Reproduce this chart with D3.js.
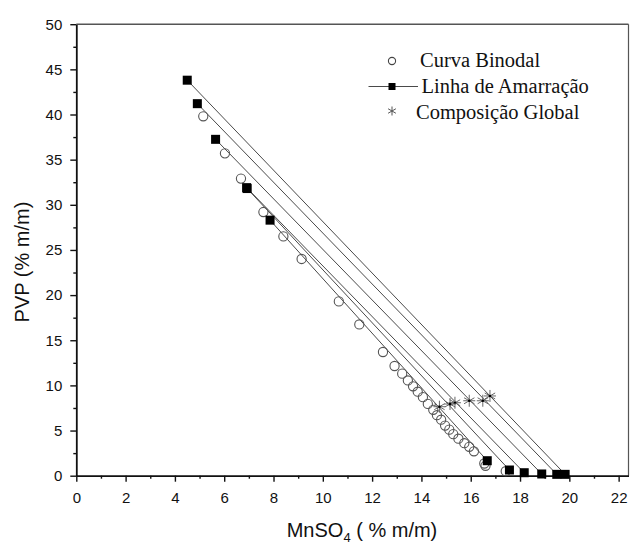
<!DOCTYPE html>
<html>
<head>
<meta charset="utf-8">
<script src="https://cdn.jsdelivr.net/npm/d3@7"></script>
<style>
  html, body { margin: 0; padding: 0; background: #fff; }
  svg { display: block; }
  .tick text { font-family: "Liberation Sans", Arial, sans-serif; font-size: 15px; fill: #111; }
</style>
</head>
<body>
<svg id="chart" width="632" height="544"></svg>
<script>
// Binodal curve (MnSO4 vs PVP, % m/m)
const binodalX = [5.15, 6.03, 6.68, 7.59, 8.40, 9.14, 10.65, 11.48, 12.44, 12.91, 13.22, 13.45, 13.66, 13.85,
                  14.06, 14.26, 14.48, 14.63, 14.80, 14.96, 15.13, 15.29, 15.50, 15.74, 15.94, 16.13, 16.55, 16.60, 17.42];
const binodalY = [39.8, 35.7, 32.9, 29.2, 26.5, 24.0, 19.3, 16.75, 13.7, 12.15, 11.3, 10.55, 9.9, 9.3,
                  8.7, 7.95, 7.3, 6.7, 6.2, 5.55, 5.1, 4.6, 4.1, 3.6, 3.2, 2.7, 1.35, 1.1, 0.5];

// Tie lines: PVP-rich phase (top) and salt-rich phase (bottom)
const tieTopX    = [4.50, 4.91, 5.65, 6.91, 7.86, 6.93];
const tieTopY    = [43.8, 41.2, 37.25, 31.9, 28.3, 31.8];
const tieBottomX = [19.83, 19.49, 18.88, 18.17, 16.67, 17.57];
const tieBottomY = [0.15, 0.15, 0.19, 0.33, 1.66, 0.63];

// Global (feed) compositions
const globalX = [16.78, 16.49, 15.94, 15.36, 14.73, 15.16];
const globalY = [8.83, 8.30, 8.30, 8.08, 7.64, 7.94];

// Axis ticks
const xMajorTicks = [0, 2, 4, 6, 8, 10, 12, 14, 16, 18, 20, 22];
const xMinorTicks = [1, 3, 5, 7, 9, 11, 13, 15, 17, 19, 21];
const yMajorTicks = [0, 5, 10, 15, 20, 25, 30, 35, 40, 45, 50];
const yMinorTicks = [2.5, 7.5, 12.5, 17.5, 22.5, 27.5, 32.5, 37.5, 42.5, 47.5];

const legendLabels = ["Curva Binodal", "Linha de Amarração", "Composição Global"];

const svg = d3.select("#chart");
const x = d3.scaleLinear().domain([0, 22.4]).range([76.3, 628.5]);
const y = d3.scaleLinear().domain([0, 50]).range([475.7, 24.2]);

const lineColor = "#4a4a4a";
const markColor = "#555";

// Frame (top and right)
svg.append("line").attr("x1", x(0)).attr("x2", x(22.4)).attr("y1", y(50)).attr("y2", y(50))
  .attr("stroke", "#555").attr("stroke-width", 1.6);
svg.append("line").attr("x1", x(22.4)).attr("x2", x(22.4)).attr("y1", y(50)).attr("y2", y(0))
  .attr("stroke", "#555").attr("stroke-width", 1.2);

// Bottom axis
const xAxisG = svg.append("g").attr("transform", `translate(0,${y(0)})`);
xAxisG.call(d3.axisBottom(x).tickValues(xMajorTicks).tickFormat(d3.format("d"))
  .tickSize(6).tickSizeOuter(0).tickPadding(11));
svg.append("g").attr("transform", `translate(0,${y(0)})`)
  .call(d3.axisBottom(x).tickValues(xMinorTicks).tickFormat("").tickSize(3).tickSizeOuter(0))
  .call(g => g.select(".domain").remove());

// Left axis
const yAxisG = svg.append("g").attr("transform", `translate(${x(0)},0)`);
yAxisG.call(d3.axisLeft(y).tickValues(yMajorTicks).tickFormat(d3.format("d"))
  .tickSize(6).tickSizeOuter(0).tickPadding(8));
svg.append("g").attr("transform", `translate(${x(0)},0)`)
  .call(d3.axisLeft(y).tickValues(yMinorTicks).tickFormat("").tickSize(3).tickSizeOuter(0))
  .call(g => g.select(".domain").remove());

svg.selectAll(".domain").attr("stroke", "#111").attr("stroke-width", 1.8);
svg.selectAll(".tick line").attr("stroke", "#111").attr("stroke-width", 1.4);

// Axis titles
svg.append("text")
  .attr("x", 362).attr("y", 537)
  .attr("text-anchor", "middle")
  .attr("font-family", "Liberation Sans, Arial, sans-serif")
  .attr("font-size", 20).attr("fill", "#111")
  .call(t => {
    t.append("tspan").text("MnSO");
    t.append("tspan").attr("font-size", 13).attr("dy", 5).text("4");
    t.append("tspan").attr("dy", -5).text(" ( % m/m)");
  });

svg.append("text")
  .attr("transform", "translate(28.5,262) rotate(-90)")
  .attr("text-anchor", "middle")
  .attr("font-family", "Liberation Sans, Arial, sans-serif")
  .attr("font-size", 20).attr("fill", "#111")
  .text("PVP (% m/m)");

// Tie lines
const ties = tieTopX.map((d, i) => [[tieTopX[i], tieTopY[i]], [tieBottomX[i], tieBottomY[i]]]);
const lineGen = d3.line().x(d => x(d[0])).y(d => y(d[1]));
svg.append("g").selectAll("path").data(ties).join("path")
  .attr("d", lineGen).attr("fill", "none")
  .attr("stroke", lineColor).attr("stroke-width", 1);

// Binodal points
svg.append("g").selectAll("circle").data(binodalX.map((d, i) => [d, binodalY[i]])).join("circle")
  .attr("cx", d => x(d[0])).attr("cy", d => y(d[1])).attr("r", 4.6)
  .attr("fill", "none").attr("stroke", markColor).attr("stroke-width", 1.1);

// Tie line end points
const ends = ties.flat();
const sq = 9;
svg.append("g").selectAll("rect").data(ends).join("rect")
  .attr("x", d => x(d[0]) - sq / 2).attr("y", d => y(d[1]) - sq / 2)
  .attr("width", sq).attr("height", sq).attr("fill", "#000");

// Asterisk symbol
function asterisk(g, cx, cy, r, color, width) {
  const angles = [90, 30, 150];
  angles.forEach(a => {
    const rad = a * Math.PI / 180;
    g.append("line")
      .attr("x1", cx - r * Math.cos(rad)).attr("y1", cy - r * Math.sin(rad))
      .attr("x2", cx + r * Math.cos(rad)).attr("y2", cy + r * Math.sin(rad))
      .attr("stroke", color).attr("stroke-width", width);
  });
  g.append("line")
    .attr("x1", cx - r).attr("y1", cy).attr("x2", cx + r).attr("y2", cy)
    .attr("stroke", color).attr("stroke-width", width);
  g.append("circle").attr("cx", cx).attr("cy", cy).attr("r", 1.3).attr("fill", "#000");
}

const gGlobal = svg.append("g");
globalX.forEach((d, i) => asterisk(gGlobal, x(d), y(globalY[i]), 6, "#666", 1));

// Legend
const lg = svg.append("g");
lg.append("circle").attr("cx", 392).attr("cy", 61).attr("r", 3.6)
  .attr("fill", "none").attr("stroke", "#444").attr("stroke-width", 1.1);
lg.append("line").attr("x1", 368.5).attr("x2", 418).attr("y1", 86.5).attr("y2", 86.5)
  .attr("stroke", lineColor).attr("stroke-width", 1);
lg.append("rect").attr("x", 392 - 3.5).attr("y", 86.5 - 3.5).attr("width", 7).attr("height", 7).attr("fill", "#000");
{
  const cx = 392, cy = 111, r = 4.5;
  [90, 30, 150].forEach(a => {
    const rad = a * Math.PI / 180;
    lg.append("line")
      .attr("x1", cx - r * Math.cos(rad)).attr("y1", cy - r * Math.sin(rad))
      .attr("x2", cx + r * Math.cos(rad)).attr("y2", cy + r * Math.sin(rad))
      .attr("stroke", "#555").attr("stroke-width", 1);
  });
}
const legendX = [420, 421.5, 416];
const legendY = [67, 93, 119];
lg.selectAll("text").data(legendLabels).join("text")
  .attr("x", (d, i) => legendX[i]).attr("y", (d, i) => legendY[i])
  .attr("font-family", "Liberation Serif, Times New Roman, serif")
  .attr("font-size", 20.5).attr("fill", "#111")
  .text(d => d);
</script>
</body>
</html>
